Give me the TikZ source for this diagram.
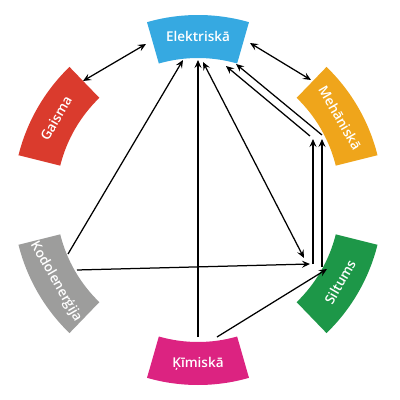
\documentclass[tikz,border=0pt]{standalone}
\usepackage{fontspec}
\setmainfont{Open Sans}[BoldFont={Open Sans Semibold}]
\usepackage{xcolor}
\usetikzlibrary{arrows.meta}
\definecolor{enblue}{HTML}{36A9E1}
\definecolor{enorange}{HTML}{EFA51B}
\definecolor{engreen}{HTML}{1D9748}
\definecolor{enpink}{HTML}{DC2381}
\definecolor{engray}{HTML}{9D9D9C}
\definecolor{enred}{HTML}{DA3B2D}
\newcommand{\rin}{142pt}
\newcommand{\rout}{185pt}
% ring segment: centre angle, colour
\newcommand{\sector}[2]{\fill[#2] (#1-16:\rin) arc[start angle=#1-16,end angle=#1+16,radius=\rin]
  -- (#1+16:\rout) arc[start angle=#1+16,end angle=#1-16,radius=\rout] -- cycle;}
\tikzset{
  lbl/.style={text=white,font=\bfseries\fontsize{13.5}{16}\selectfont,inner sep=0pt},
  arr/.style={-{Stealth[length=8pt,width=7pt,inset=3pt]},line width=1.25pt},
  darr/.style={arr,{Stealth[length=8pt,width=7pt,inset=3pt]}-{Stealth[length=8pt,width=7pt,inset=3pt]}},
}
\begin{document}
\begin{tikzpicture}[x=1pt,y=1pt]
\useasboundingbox (-198,-200) rectangle (202,200);
\sector{90}{enblue}
\sector{30}{enorange}
\sector{-30}{engreen}
\sector{270}{enpink}
\sector{210}{engray}
\sector{150}{enred}
\node[lbl] (elek) at (90:164pt) {Elektriskā};
\node[lbl,rotate=-60] (meh) at (30:164pt) {Mehāniskā};
\node[lbl,rotate=60] (silt) at (-30:164pt) {Siltums};
\node[lbl] (kim) at (270:164pt) {Ķīmiskā};
\node[lbl,rotate=-60] (kod) at (210:164pt) {Kodolenerģija};
\node[lbl,rotate=60] (gais) at (150:164pt) {Gaisma};
% arrow ends
\coordinate (gais-e) at (-115,119);
\coordinate (elek-g) at (-52,156);
\coordinate (elek-m) at (52,157);
\coordinate (meh-e) at (113,120);
\coordinate (kod-e) at (-130,-54);
\coordinate (elek-k) at (-15,140);
\coordinate (kod-s) at (-121,-70);
\coordinate (silt-k) at (112,-64);
\coordinate (kim-e) at (0,-137);
\coordinate (elek-c) at (0,140);
\coordinate (kim-s) at (19,-137);
\coordinate (silt-c) at (129,-69);
\coordinate (elek-s) at (5,138);
\coordinate (silt-e) at (106,-58);
\coordinate (silt-m1) at (115,-64);
\coordinate (meh-s1) at (115,61);
\coordinate (silt-m2) at (124,-67);
\coordinate (meh-s2) at (124,61);
\coordinate (meh-e1) at (112,64);
\coordinate (elek-m1) at (28,134);
\coordinate (meh-e2) at (124,65);
\coordinate (elek-m2) at (38,136);
\draw[darr] (gais-e) -- (elek-g);
\draw[darr] (elek-m) -- (meh-e);
\draw[arr] (kod-e) -- (elek-k);
\draw[arr] (kod-s) -- (silt-k);
\draw[arr] (kim-e) -- (elek-c);
\draw[arr] (kim-s) -- (silt-c);
\draw[darr] (elek-s) -- (silt-e);
\draw[arr] (silt-m1) -- (meh-s1);
\draw[arr] (silt-m2) -- (meh-s2);
\draw[arr] (meh-e1) -- (elek-m1);
\draw[arr] (meh-e2) -- (elek-m2);
\end{tikzpicture}
\end{document}
